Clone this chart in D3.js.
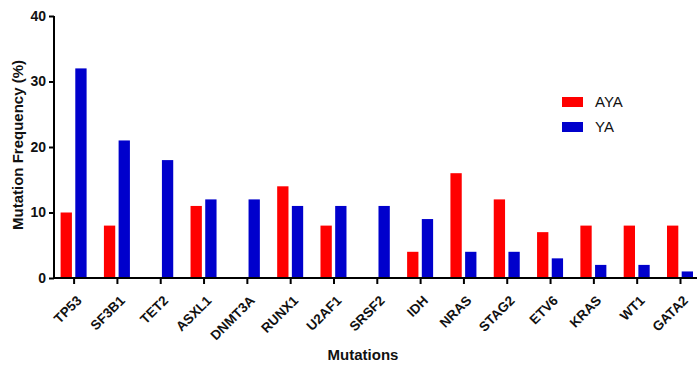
<!DOCTYPE html>
<html>
<head>
<meta charset="utf-8">
<script src="https://cdn.jsdelivr.net/npm/d3@7"></script>
<style>
  body { margin: 0; background: #fff; }
  text { font-family: "Liberation Sans", Arial, sans-serif; }
</style>
</head>
<body>
<div id="chart"></div>
<script>
// data
const genes = ["TP53", "SF3B1", "TET2", "ASXL1", "DNMT3A", "RUNX1", "U2AF1", "SRSF2",
  "IDH", "NRAS", "STAG2", "ETV6", "KRAS", "WT1", "GATA2"];
const aya = [10, 8, 0, 11, 0, 14, 8, 0, 4, 16, 12, 7, 8, 8, 8];
const ya = [32, 21, 18, 12, 12, 11, 11, 11, 9, 4, 4, 3, 2, 2, 1];
const seriesNames = ["AYA", "YA"];
const colors = ["#ff0000", "#0000cc"];
const yTicks = [0, 10, 20, 30, 40];

const width = 699, height = 366;
const x0 = 54, x1 = 697, yTop = 16, yBottom = 278;

const svg = d3.select("#chart").append("svg")
  .attr("width", width)
  .attr("height", height);

// first tick sits ~20px in from the axis, last near the right end
const x = d3.scalePoint()
  .domain(genes)
  .range([73.6, 680]);

const sub = d3.scaleBand()
  .domain(seriesNames)
  .range([-13, 13])
  .paddingInner(0.23);

const y = d3.scaleLinear()
  .domain([0, 40])
  .range([yBottom, yTop]);

const rows = genes.map((g, i) => ({ gene: g, values: [aya[i], ya[i]] }));

svg.append("g")
  .selectAll("g")
  .data(rows)
  .join("g")
  .attr("transform", d => `translate(${x(d.gene)},0)`)
  .selectAll("rect")
  .data(d => d.values.map((v, k) => ({ key: seriesNames[k], v: v, c: colors[k] })))
  .join("rect")
  .attr("x", d => sub(d.key))
  .attr("width", sub.bandwidth())
  .attr("y", d => y(d.v))
  .attr("height", d => yBottom - y(d.v))
  .attr("fill", d => d.c);

// y axis
const yAxis = svg.append("g")
  .attr("transform", `translate(${x0},0)`)
  .call(d3.axisLeft(y).tickValues(yTicks).tickSize(5).tickPadding(3));
yAxis.select(".domain").attr("stroke-width", 2).attr("d", `M-0,${yTop}V${yBottom + 1}`);
yAxis.selectAll(".tick line").attr("stroke-width", 2);
yAxis.selectAll("text")
  .attr("font-size", 14)
  .attr("font-weight", "bold")
  .attr("font-family", "Liberation Sans, Arial, sans-serif")
  .attr("fill", "#111");

// x axis
const xAxis = svg.append("g")
  .attr("transform", `translate(0,${yBottom})`)
  .call(d3.axisBottom(x).tickSize(6).tickSizeOuter(0));
xAxis.select(".domain").attr("stroke-width", 2).attr("d", `M${x0 - 1},0H${x1}`);
xAxis.selectAll(".tick line").attr("stroke-width", 2);
xAxis.selectAll("text")
  .attr("font-size", 13.5)
  .attr("font-weight", "bold")
  .attr("font-family", "Liberation Sans, Arial, sans-serif")
  .attr("fill", "#111")
  .attr("text-anchor", "end")
  .attr("dy", "0.35em")
  .attr("transform", "translate(5,20) rotate(-45)")
  .attr("x", 0)
  .attr("y", 0);

// axis titles
svg.append("text")
  .attr("x", 363)
  .attr("y", 360)
  .attr("text-anchor", "middle")
  .attr("font-size", 15)
  .attr("font-weight", "bold")
  .attr("fill", "#111")
  .text("Mutations");

svg.append("text")
  .attr("transform", `translate(23,${(yTop + yBottom) / 2 - 2}) rotate(-90)`)
  .attr("text-anchor", "middle")
  .attr("font-size", 15)
  .attr("font-weight", "bold")
  .attr("fill", "#111")
  .text("Mutation Frequency (%)");

// legend
const legend = svg.append("g")
  .attr("transform", "translate(562,97)")
  .selectAll("g")
  .data(seriesNames)
  .join("g")
  .attr("transform", (d, i) => `translate(0,${i * 25})`);
legend.append("rect")
  .attr("width", 21)
  .attr("height", 10)
  .attr("fill", (d, i) => colors[i]);
legend.append("text")
  .attr("x", 33)
  .attr("y", 5)
  .attr("dy", "0.35em")
  .attr("font-size", 15)
  .attr("fill", "#111")
  .text(d => d);
</script>
</body>
</html>
